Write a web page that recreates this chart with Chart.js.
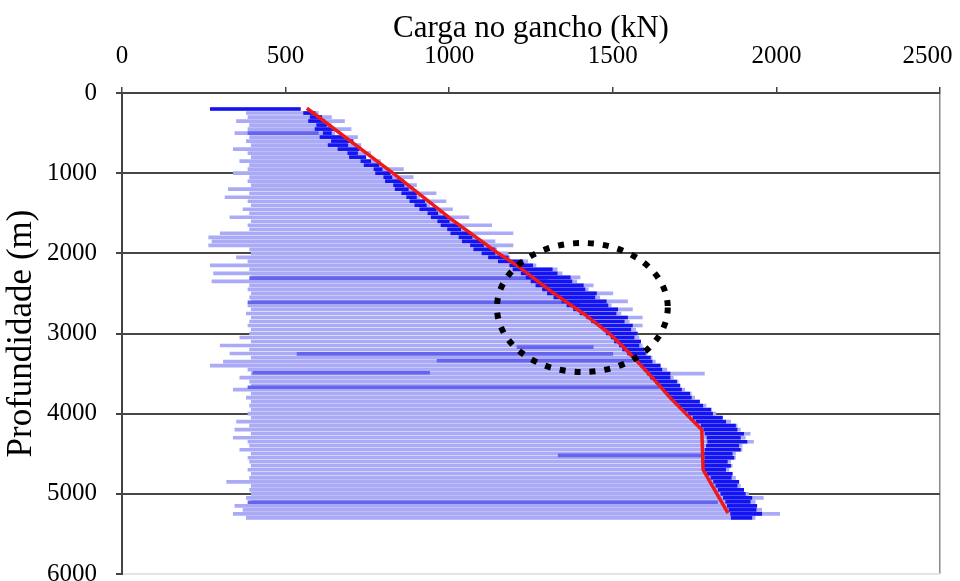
<!DOCTYPE html>
<html>
<head>
<meta charset="utf-8">
<script src="https://cdn.jsdelivr.net/npm/chart.js@4.4.1/dist/chart.umd.min.js"></script>
<style>
  html, body { margin: 0; padding: 0; background: #fff; }
</style>
</head>
<body>
<canvas id="hookLoadChart" width="960" height="581"></canvas>
<script>
// Hook load readings, one row every 50 m
const depthM = [
  200, 250, 300, 350, 400, 450, 500, 550, 600, 650, 700, 750, 800, 850, 900, 950,
  1000, 1050, 1100, 1150, 1200, 1250, 1300, 1350, 1400, 1450, 1500, 1550, 1600, 1650, 1700, 1750,
  1800, 1850, 1900, 1950, 2000, 2050, 2100, 2150, 2200, 2250, 2300, 2350, 2400, 2450, 2500, 2550,
  2600, 2650, 2700, 2750, 2800, 2850, 2900, 2950, 3000, 3050, 3100, 3150, 3200, 3250, 3300, 3350,
  3400, 3450, 3500, 3550, 3600, 3650, 3700, 3750, 3800, 3850, 3900, 3950, 4000, 4050, 4100, 4150,
  4200, 4250, 4300, 4350, 4400, 4450, 4500, 4550, 4600, 4650, 4700, 4750, 4800, 4850, 4900, 4950,
  5000, 5050, 5100, 5150, 5200, 5250, 5300
];
// lowest load of each row (left end)
const loadMinKN = [
  270, 380, 385, 350, 390, 385, 345, 390, 380, 395, 340, 385, 395, 360, 390, 385,
  340, 390, 385, 395, 325, 390, 315, 385, 395, 370, 390, 330, 395, 385, 390, 300,
  265, 275, 265, 390, 395, 350, 385, 270, 390, 280, 395, 275, 390, 385, 395, 390,
  395, 385, 395, 380, 395, 390, 385, 395, 390, 360, 395, 300, 390, 330, 395, 310,
  270, 385, 395, 360, 390, 395, 340, 395, 380, 395, 390, 395, 385, 395, 350, 390,
  345, 395, 340, 385, 390, 360, 395, 385, 390, 395, 385, 395, 390, 320, 395, 390,
  395, 380, 395, 345, 370, 340, 380
];
// highest load of each row (right end)
const loadMaxKN = [
  545, 600, 640, 680, 640, 700, 650, 720, 708, 730, 725, 760, 745, 790, 790, 860,
  820, 890, 862, 900, 885, 960, 910, 990, 940, 1010, 975, 1060, 1010, 1130, 1045, 1195,
  1080, 1140, 1195, 1145, 1180, 1185, 1240, 1265, 1330, 1345, 1400, 1390, 1440, 1425, 1500, 1460,
  1545, 1495, 1560, 1525, 1590, 1550, 1590, 1570, 1575, 1580, 1585, 1590, 1595, 1605, 1620, 1630,
  1645, 1665, 1780, 1685, 1700, 1705, 1720, 1740, 1750, 1765, 1785, 1800, 1815, 1835, 1860, 1880,
  1890, 1920, 1905, 1930, 1895, 1895, 1875, 1875, 1860, 1865, 1855, 1865, 1875, 1885, 1890, 1900,
  1915, 1960, 1935, 1940, 1955, 2010, 1935
];
// dense (dark) part of the readings
const denseFromKN = [
  270, 555, 575, 570, 595, 590, 615, 605, 640, 630, 660, 690, 695, 730, 740, 770,
  775, 800, 805, 830, 835, 855, 870, 880, 895, 910, 935, 945, 965, 975, 995, 1005,
  1030, 1040, 1065, 1075, 1100, 1120, 1150, 1185, 1195, 1220, 1235, 1250, 1265, 1285, 1300, 1320,
  1345, 1360, 1380, 1400, 1420, 1435, 1455, 1470, 1480, 1495, 1505, 1520, 1530, 1545, 1560, 1575,
  1585, 1595, 1605, 1615, 1630, 1640, 1655, 1665, 1675, 1690, 1700, 1715, 1730, 1745, 1755, 1770,
  1778, 1782, 1788, 1790, 1786, 1782, 1780, 1781, 1778, 1778, 1780, 1788, 1800, 1808, 1815, 1822,
  1830, 1838, 1845, 1850, 1855, 1860, 1862
];
const denseToKN = [
  545, 590, 610, 620, 625, 650, 640, 680, 705, 690, 725, 720, 745, 760, 785, 795,
  820, 825, 860, 862, 875, 900, 900, 925, 930, 960, 965, 995, 1000, 1030, 1035, 1065,
  1070, 1100, 1105, 1140, 1140, 1180, 1225, 1255, 1315, 1330, 1370, 1375, 1410, 1415, 1450, 1445,
  1480, 1485, 1515, 1510, 1545, 1535, 1560, 1555, 1575, 1565, 1585, 1580, 1595, 1600, 1615, 1620,
  1645, 1650, 1675, 1675, 1695, 1705, 1710, 1735, 1740, 1765, 1775, 1800, 1805, 1835, 1845, 1875,
  1880, 1900, 1890, 1910, 1885, 1890, 1865, 1870, 1850, 1860, 1845, 1865, 1862, 1885, 1880, 1900,
  1905, 1925, 1920, 1940, 1938, 1955, 1925
];

// tripping rows drawn a bit darker
const tripDepthM = [500, 2310, 2610, 3170, 3255, 3340, 3490, 3670, 4520, 5105];
const tripFromKN = [385, 390, 385, 1207, 535, 963, 400, 385, 1333, 385];
const tripToKN = [600, 1300, 1400, 1440, 1500, 1560, 940, 1640, 1770, 1820];

// red trend line
const trendDepthM = [190, 1000, 1560, 2000, 2150, 2500, 2750, 3000, 3200, 3500, 3800, 4200, 4700, 5240];
const trendLoadKN = [565, 828, 1002, 1150, 1207, 1320, 1410, 1490, 1540, 1610, 1675, 1772, 1776, 1852];

// dotted highlight ellipse (data units)
const highlight = { load: 1407, depth: 2676, loadRadius: 261, depthRadius: 805 };

const loadTicks = [0, 500, 1000, 1500, 2000, 2500];
const depthTicks = [0, 1000, 2000, 3000, 4000, 5000, 6000];

const serif = "'Liberation Serif', 'Times New Roman', serif";

const ellipsePlugin = {
  id: "highlightEllipse",
  afterDatasetsDraw(chart) {
    const { ctx, scales: { x, y } } = chart;
    const cx = x.getPixelForValue(highlight.load);
    const cy = y.getPixelForValue(highlight.depth);
    const rx = Math.abs(x.getPixelForValue(highlight.load + highlight.loadRadius) - cx);
    const ry = Math.abs(y.getPixelForValue(highlight.depth + highlight.depthRadius) - cy);
    ctx.save();
    ctx.beginPath();
    ctx.ellipse(cx, cy, rx, ry, 0, 0, Math.PI * 2);
    ctx.setLineDash([6, 9]);
    ctx.lineWidth = 6;
    ctx.strokeStyle = "#000";
    ctx.stroke();
    ctx.restore();
  }
};

document.addEventListener("DOMContentLoaded", function () {
  const ctx = document.getElementById("hookLoadChart").getContext("2d");

  new Chart(ctx, {
    type: "bar",
    data: {
      datasets: [
        {
          type: "line",
          label: "Tendência",
          data: trendDepthM.map((d, i) => ({ x: trendLoadKN[i], y: d })),
          borderColor: "#f01818",
          borderWidth: 3.5,
          pointRadius: 0,
          tension: 0,
          fill: false,
          order: 0,
        },
        {
          label: "Denso",
          data: depthM.map((d, i) => ({ x: [denseFromKN[i], denseToKN[i]], y: d })),
          backgroundColor: "#1414f2",
          barThickness: 3,
          grouped: false,
          order: 1,
        },
        {
          label: "Manobras",
          data: tripDepthM.map((d, i) => ({ x: [tripFromKN[i], tripToKN[i]], y: d })),
          backgroundColor: "#6464ee",
          barThickness: 3,
          grouped: false,
          order: 2,
        },
        {
          label: "Carga no gancho",
          data: depthM.map((d, i) => ({ x: [loadMinKN[i], loadMaxKN[i]], y: d })),
          backgroundColor: "#aaaaf6",
          barThickness: 3,
          grouped: false,
          order: 3,
        },
      ],
    },
    options: {
      responsive: false,
      animation: false,
      indexAxis: "y",
      layout: { padding: { top: 0, right: 20, bottom: 7, left: 0 } },
      plugins: {
        legend: { display: false },
        tooltip: { enabled: false },
      },
      scales: {
        x: {
          type: "linear",
          position: "top",
          min: 0,
          max: 2500,
          offset: false,
          afterBuildTicks: (scale) => { scale.ticks = loadTicks.map((v) => ({ value: v })); },
          afterFit: (scale) => { scale.height = 93; scale.paddingLeft = 0; scale.paddingRight = 0; },
          ticks: {
            color: "#000",
            font: { family: serif, size: 25 },
            padding: 16,
            maxRotation: 0,
            // last label kept inside the page, as in the original
            callback: (v) => (v === 2500 ? "2500\u2002\u2002" : String(v)),
          },
          grid: {
            offset: false,
            color: (c) => (c.tick && c.tick.value === 2500 ? "#8a8a8a" : "transparent"),
            tickColor: "#444",
            tickLength: 6,
            lineWidth: 1.5,
          },
          border: { color: "#444", width: 2 },
          title: {
            display: true,
            text: "Carga no gancho (kN)",
            color: "#000",
            font: { family: serif, size: 31 },
            padding: { top: 10, bottom: 0 },
          },
        },
        y: {
          type: "linear",
          reverse: true,
          min: 0,
          max: 6000,
          offset: false,
          afterBuildTicks: (scale) => { scale.ticks = depthTicks.map((v) => ({ value: v })); },
          afterFit: (scale) => { scale.width = 122; scale.paddingTop = 0; scale.paddingBottom = 0; },
          ticks: {
            color: "#000",
            font: { family: serif, size: 25 },
            padding: 19,
            callback: (v) => String(v),
          },
          grid: {
            offset: false,
            color: (c) => {
              const v = c.tick ? c.tick.value : 0;
              if (v === 0) return "transparent";
              if (v === 6000) return "#e4e4e4";
              return "#474747";
            },
            tickColor: "#444",
            tickLength: 6,
            lineWidth: 2,
          },
          border: { color: "#444", width: 2 },
          title: {
            display: true,
            text: "Profundidade (m)",
            color: "#000",
            font: { family: serif, size: 35 },
            padding: { top: 1, bottom: 0 },
          },
        },
      },
    },
    plugins: [ellipsePlugin],
  });
});
</script>
</body>
</html>
